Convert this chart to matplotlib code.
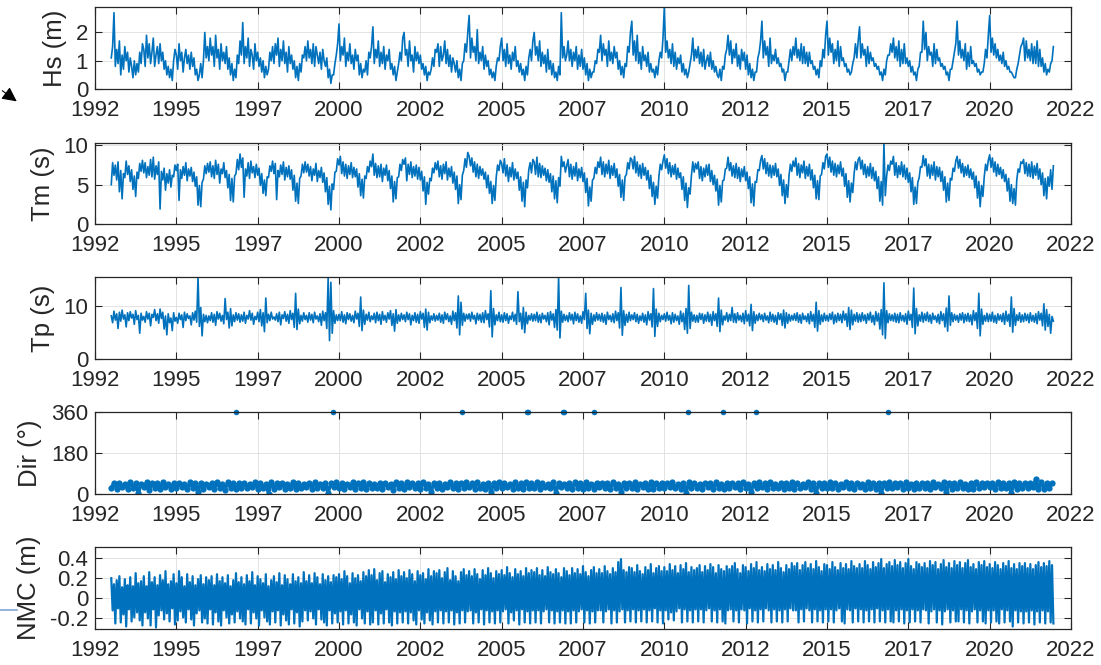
import numpy as np
import matplotlib.pyplot as plt
from matplotlib.lines import Line2D

plt.rcParams['font.family'] = ['Liberation Sans', 'DejaVu Sans']
plt.rcParams['axes.unicode_minus'] = False

# series run from start of 1993 to end of 2021, evenly spaced samples
start_year = 1993.0
end_year = 2022.0

# significant wave height (m), ~2 samples per month
hs = [
    1.1, 1.5, 2.7, 0.8, 1.4, 0.9, 1.7, 0.5, 1.2, 0.7, 1.5, 1.0, 1.3, 0.6, 1.1, 0.8, 0.4, 1.0, 0.5, 0.9, 0.6, 1.3, 0.9, 1.6,
    1.4, 0.8, 1.9, 1.1, 1.6, 0.9, 1.3, 1.8, 0.8, 1.2, 1.5, 0.9, 1.6, 1.0, 1.3, 0.7, 1.0, 0.5, 0.8, 0.4, 0.7, 0.3, 1.0, 1.4,
    1.2, 0.7, 1.6, 1.0, 1.3, 0.6, 1.1, 1.4, 0.9, 1.2, 0.7, 1.3, 0.8, 1.1, 0.5, 0.7, 0.3, 0.5, 0.9, 0.4, 1.0, 2.0, 1.1, 1.5,
    1.0, 1.8, 1.2, 1.5, 0.8, 1.9, 1.1, 1.4, 0.7, 1.6, 1.0, 1.3, 0.9, 1.5, 0.7, 1.1, 0.5, 0.9, 0.3, 0.7, 0.4, 1.2, 0.9, 1.7,
    1.2, 2.35, 0.9, 1.5, 1.1, 1.8, 0.8, 1.4, 1.2, 0.7, 1.6, 1.0, 1.3, 0.8, 1.1, 0.6, 1.0, 0.4, 0.8, 0.5, 0.7, 1.3, 1.0, 1.5,
    0.9, 1.6, 1.2, 1.8, 0.8, 1.4, 1.0, 1.7, 0.9, 1.3, 0.6, 1.5, 0.9, 1.2, 0.7, 1.0, 0.4, 0.8, 0.3, 0.9, 0.6, 1.2, 1.1, 1.5,
    1.0, 1.7, 1.1, 1.4, 0.9, 1.6, 0.8, 1.5, 1.2, 0.9, 1.3, 0.7, 1.4, 1.0, 0.8, 1.1, 0.4, 0.7, 0.2, 0.5, 0.5, 0.9, 1.2, 1.6,
    2.3, 1.0, 1.5, 1.2, 1.8, 0.8, 1.3, 1.0, 1.6, 0.9, 1.2, 0.7, 1.4, 1.0, 1.2, 0.5, 0.9, 0.4, 0.7, 0.6, 1.0, 0.5, 1.3, 1.1,
    1.5, 2.2, 0.9, 1.4, 1.1, 1.7, 0.8, 1.3, 0.9, 1.5, 0.7, 1.2, 1.0, 1.4, 0.7, 0.9, 0.5, 0.8, 0.3, 0.6, 0.9, 1.3, 1.0, 1.8,
    2.0, 1.2, 1.4, 0.8, 1.7, 1.0, 1.2, 0.6, 1.5, 1.0, 1.3, 0.9, 1.2, 0.7, 0.9, 0.5, 0.8, 0.3, 0.6, 0.5, 0.7, 1.1, 0.8, 1.4,
    1.3, 1.6, 0.8, 1.5, 1.0, 1.2, 1.7, 0.9, 1.4, 0.8, 1.2, 0.6, 1.1, 0.9, 0.6, 1.0, 0.4, 0.7, 0.3, 0.9, 1.0, 1.6, 1.3, 2.0,
    2.6, 1.1, 1.8, 1.3, 1.5, 1.0, 2.1, 0.9, 1.3, 1.0, 1.5, 0.7, 1.2, 0.8, 1.0, 0.5, 0.7, 0.4, 0.6, 0.3, 0.8, 1.1, 1.0, 1.5,
    1.8, 1.0, 1.4, 0.8, 1.6, 0.9, 1.2, 0.7, 1.3, 1.0, 1.5, 0.8, 1.0, 0.6, 0.9, 0.5, 0.7, 0.3, 0.8, 0.5, 1.1, 1.4, 1.0, 1.7,
    2.0, 1.2, 1.5, 1.0, 1.7, 0.8, 1.3, 0.9, 1.2, 0.6, 1.4, 0.7, 1.0, 0.5, 0.9, 0.4, 0.6, 0.3, 0.8, 0.5, 2.7, 1.1, 1.5, 1.0,
    1.2, 1.7, 1.0, 1.4, 0.8, 1.3, 1.0, 1.5, 0.7, 1.2, 0.8, 1.4, 0.7, 1.1, 0.5, 0.9, 0.3, 0.7, 0.4, 0.6, 0.6, 1.0, 0.9, 1.4,
    1.3, 1.9, 1.0, 1.6, 1.2, 1.4, 0.8, 1.7, 1.0, 1.3, 0.9, 1.5, 1.1, 1.3, 0.7, 1.0, 0.5, 0.8, 0.4, 0.9, 0.8, 1.5, 1.3, 2.0,
    2.4, 1.2, 1.7, 1.0, 1.9, 0.9, 1.3, 0.7, 1.5, 1.0, 1.2, 0.8, 1.3, 0.6, 0.9, 0.6, 0.7, 0.4, 0.8, 0.5, 1.0, 1.3, 1.1, 1.8,
    2.9, 1.3, 1.7, 1.1, 1.4, 0.9, 1.6, 0.8, 1.3, 0.7, 1.1, 0.9, 1.2, 0.6, 0.9, 0.5, 0.7, 0.4, 0.6, 0.9, 1.2, 1.8, 1.0, 1.4,
    1.1, 1.5, 0.9, 1.3, 0.8, 1.4, 0.7, 1.0, 1.2, 0.8, 1.3, 0.7, 1.0, 0.6, 0.8, 0.5, 0.4, 0.7, 0.3, 0.8, 0.7, 1.2, 1.4, 1.9,
    1.2, 1.7, 0.9, 1.4, 1.1, 1.6, 0.8, 1.2, 0.7, 1.4, 1.0, 1.3, 0.7, 1.2, 0.5, 0.9, 0.4, 0.7, 0.3, 0.6, 0.6, 1.1, 1.3, 1.7,
    2.4, 1.1, 1.7, 1.2, 1.5, 0.8, 1.8, 0.9, 1.2, 1.0, 1.4, 0.9, 1.1, 0.8, 0.9, 0.6, 0.7, 0.3, 0.6, 0.6, 1.0, 1.4, 1.0, 1.5,
    1.2, 1.8, 1.1, 1.4, 1.0, 1.6, 0.9, 1.5, 0.9, 1.3, 0.8, 1.3, 0.9, 1.0, 0.7, 0.8, 0.5, 0.7, 0.4, 1.0, 0.8, 1.4, 1.1, 1.9,
    2.4, 1.2, 1.8, 1.3, 1.6, 0.9, 1.4, 1.0, 1.7, 0.8, 1.5, 1.0, 1.1, 0.8, 0.9, 0.6, 0.7, 0.5, 0.6, 0.9, 1.1, 1.6, 1.1, 1.7,
    2.2, 1.1, 1.6, 1.2, 1.4, 0.8, 1.5, 0.9, 1.3, 1.0, 1.1, 0.8, 0.9, 0.7, 0.8, 0.5, 0.6, 0.3, 0.7, 0.5, 1.0, 1.2, 1.2, 1.6,
    1.3, 1.8, 1.1, 1.5, 1.0, 1.7, 0.8, 1.4, 0.9, 1.6, 0.9, 1.1, 0.8, 1.0, 0.6, 0.8, 0.5, 0.6, 0.3, 0.7, 0.8, 1.3, 1.3, 2.4,
    1.4, 2.0, 1.0, 1.5, 1.2, 1.3, 0.8, 1.6, 0.9, 1.4, 1.0, 1.1, 0.8, 0.9, 0.7, 0.8, 0.5, 0.6, 0.3, 0.7, 0.7, 1.0, 1.3, 1.6,
    2.4, 1.2, 1.7, 1.1, 1.4, 1.0, 1.6, 0.7, 1.3, 0.8, 1.5, 0.9, 1.0, 0.8, 0.9, 0.6, 0.7, 0.5, 0.6, 0.6, 0.9, 1.4, 1.1, 1.9,
    2.6, 1.3, 1.8, 1.2, 1.6, 1.1, 1.4, 1.0, 1.2, 0.9, 1.3, 0.8, 1.0, 0.7, 0.8, 0.6, 0.6, 0.5, 0.4, 0.4, 0.7, 0.9, 1.2, 1.5,
    1.6, 1.8, 1.0, 1.7, 1.1, 1.4, 1.0, 1.6, 0.9, 1.5, 0.9, 1.7, 0.8, 1.4, 0.8, 1.1, 0.6, 0.9, 0.5, 0.7, 0.6, 0.9, 1.0, 1.5,
]

# mean period (s)
tm = [
    5.0, 7.8, 6.2, 7.5, 5.6, 7.9, 4.1, 6.8, 3.2, 6.4, 5.9, 8.0, 6.3, 7.4, 5.4, 6.9, 4.4, 6.1, 3.5, 6.6, 5.8, 7.7, 6.7, 8.1,
    6.5, 7.8, 5.9, 7.3, 6.2, 8.2, 6.0, 8.5, 5.7, 7.4, 6.3, 7.9, 1.9, 6.7, 5.6, 7.1, 4.3, 6.4, 5.2, 6.9, 4.7, 6.2, 6.0, 7.5,
    6.8, 7.6, 3.0, 6.9, 5.8, 7.3, 6.2, 7.8, 5.5, 7.0, 6.1, 7.2, 5.4, 6.6, 4.8, 6.0, 2.4, 4.9, 2.2, 5.3, 5.7, 7.4, 6.4, 7.7,
    6.6, 7.9, 6.0, 7.4, 5.8, 8.1, 6.3, 7.6, 5.2, 7.0, 6.4, 7.8, 5.9, 6.8, 4.6, 6.3, 3.0, 5.8, 2.8, 6.1, 6.4, 8.2, 6.9, 8.9,
    7.2, 8.4, 3.4, 7.0, 6.1, 7.8, 5.8, 8.0, 6.5, 7.3, 5.9, 7.6, 6.2, 7.1, 4.9, 6.4, 3.9, 5.6, 3.6, 6.0, 5.9, 7.4, 6.7, 8.0,
    6.4, 7.7, 3.1, 6.8, 6.0, 7.5, 6.3, 7.9, 5.6, 7.2, 6.0, 7.4, 5.7, 6.9, 4.3, 6.2, 2.9, 5.2, 2.6, 5.8, 6.1, 7.6, 6.5, 7.9,
    6.6, 7.6, 6.1, 7.3, 5.5, 7.0, 6.2, 7.7, 5.4, 6.8, 5.9, 7.2, 5.3, 6.5, 4.1, 5.9, 2.5, 4.8, 1.8, 5.1, 4.4, 6.6, 6.7, 8.3,
    7.5, 8.6, 6.4, 7.9, 6.1, 7.6, 5.8, 7.4, 6.3, 7.8, 5.9, 7.2, 6.0, 7.0, 4.7, 6.4, 3.6, 5.7, 3.3, 6.1, 5.8, 7.3, 6.6, 8.0,
    7.3, 8.9, 6.2, 7.7, 5.9, 7.4, 6.0, 7.6, 5.4, 7.1, 6.2, 7.5, 5.5, 6.8, 4.5, 6.1, 2.8, 5.4, 3.2, 5.9, 6.0, 7.6, 6.8, 8.2,
    7.6, 8.4, 5.5, 7.6, 6.3, 7.9, 5.9, 7.3, 6.1, 7.5, 5.7, 7.2, 5.6, 6.7, 4.2, 6.0, 2.5, 5.3, 3.8, 5.8, 5.5, 7.1, 6.5, 7.8,
    6.9, 8.0, 6.0, 7.4, 5.7, 7.6, 6.4, 7.9, 5.6, 7.1, 6.0, 7.3, 5.2, 6.6, 4.4, 6.1, 2.6, 5.0, 3.1, 6.2, 6.8, 8.3, 7.2, 9.1,
    8.6, 7.4, 8.4, 6.6, 7.9, 6.0, 7.6, 5.8, 7.3, 6.2, 7.0, 5.7, 6.6, 4.6, 6.2, 3.9, 5.4, 2.6, 4.9, 3.0, 6.0, 7.5, 6.8, 8.1,
    7.7, 6.5, 8.3, 6.1, 7.5, 5.4, 7.2, 6.0, 7.8, 5.6, 7.0, 5.8, 6.6, 4.3, 6.0, 2.9, 5.3, 2.2, 5.6, 4.6, 6.9, 7.8, 6.5, 8.2,
    7.9, 6.3, 8.5, 6.0, 7.7, 5.9, 7.4, 6.2, 7.1, 5.5, 6.9, 5.3, 6.4, 4.1, 6.1, 3.2, 5.5, 2.7, 5.9, 4.8, 8.6, 7.3, 7.9, 6.6,
    7.4, 8.2, 6.0, 7.6, 5.7, 7.3, 6.1, 7.8, 5.5, 7.0, 5.9, 7.2, 5.4, 6.5, 4.0, 5.8, 2.3, 4.7, 2.9, 5.6, 5.8, 7.2, 6.4, 7.9,
    7.2, 8.5, 6.3, 7.9, 6.0, 7.6, 6.4, 8.1, 5.8, 7.4, 6.2, 7.7, 5.9, 7.0, 4.8, 6.3, 3.4, 5.6, 3.0, 6.0, 6.3, 7.8, 7.0, 8.4,
    8.2, 7.0, 8.6, 6.5, 7.9, 6.1, 7.5, 5.8, 7.7, 6.2, 7.2, 5.6, 6.8, 4.5, 6.2, 3.5, 5.3, 2.5, 4.8, 3.3, 6.1, 7.6, 6.9, 8.0,
    8.8, 7.1, 8.3, 6.4, 7.8, 6.0, 7.4, 6.3, 7.6, 5.7, 7.1, 5.9, 6.5, 4.4, 6.0, 3.0, 5.2, 2.1, 4.6, 3.8, 6.2, 7.9, 6.6, 7.7,
    7.0, 7.9, 5.8, 7.3, 5.5, 7.1, 6.0, 7.5, 6.2, 7.6, 5.4, 6.8, 5.0, 6.2, 4.2, 5.7, 2.4, 4.9, 2.8, 5.5, 5.6, 7.0, 7.1, 8.5,
    6.8, 7.8, 6.1, 7.4, 5.9, 7.7, 5.8, 7.2, 5.4, 7.0, 6.0, 7.3, 5.5, 6.6, 4.5, 6.0, 2.7, 5.1, 2.3, 5.4, 5.3, 6.9, 6.8, 8.1,
    8.7, 7.0, 8.3, 6.4, 7.8, 6.1, 7.5, 5.9, 7.4, 6.2, 7.7, 6.0, 7.0, 4.9, 6.3, 3.6, 5.6, 2.6, 5.0, 3.4, 6.2, 7.6, 6.7, 8.0,
    7.3, 8.4, 6.2, 7.7, 5.9, 7.5, 6.5, 8.0, 5.8, 7.3, 6.1, 7.6, 5.6, 6.9, 4.6, 6.2, 3.2, 5.5, 3.1, 6.1, 6.3, 7.8, 7.0, 8.6,
    8.9, 7.2, 8.5, 6.6, 8.0, 6.2, 7.7, 6.0, 7.5, 6.4, 7.9, 6.1, 7.1, 4.8, 6.4, 3.4, 5.5, 2.8, 5.2, 4.0, 6.4, 7.9, 6.9, 8.2,
    8.5, 7.0, 8.1, 6.3, 7.6, 5.9, 7.3, 6.1, 7.7, 5.8, 7.2, 5.5, 6.7, 4.5, 6.0, 2.9, 5.4, 2.4, 10.3, 3.6, 6.1, 7.5, 6.8, 8.0,
    7.6, 8.6, 6.2, 7.8, 5.9, 7.4, 6.3, 7.9, 6.0, 7.5, 5.7, 7.1, 5.3, 6.5, 4.1, 5.9, 2.5, 4.7, 2.6, 5.3, 5.9, 7.3, 7.2, 8.7,
    7.4, 8.3, 6.1, 7.6, 5.8, 7.5, 6.2, 7.9, 5.6, 7.3, 6.0, 7.2, 5.4, 6.7, 4.3, 6.0, 2.8, 5.2, 3.0, 5.8, 5.6, 7.1, 6.7, 8.0,
    8.6, 7.1, 8.2, 6.5, 7.7, 6.0, 7.3, 6.2, 7.5, 5.9, 7.0, 5.7, 6.6, 4.6, 6.1, 3.3, 5.4, 2.2, 4.9, 3.5, 6.0, 7.6, 6.8, 8.1,
    8.8, 7.2, 8.4, 6.6, 7.9, 6.1, 7.6, 6.3, 7.2, 5.8, 6.9, 5.4, 6.3, 4.2, 5.8, 2.9, 5.0, 2.6, 4.5, 2.4, 5.6, 7.0, 6.6, 7.9,
    7.7, 8.2, 6.4, 7.8, 6.1, 7.6, 6.0, 7.9, 5.8, 7.4, 6.2, 7.7, 5.7, 7.0, 5.0, 6.5, 3.6, 5.8, 3.2, 6.0, 4.8, 6.9, 4.4, 7.4,
]

# peak period (s)
tp = [
    8.2, 6.9, 9.1, 7.4, 8.6, 5.8, 8.9, 7.2, 9.3, 7.6, 8.4, 6.1, 8.8, 7.3, 9.0, 7.8, 8.5, 6.6, 9.2, 7.5, 8.3, 4.9, 8.7, 7.4,
    8.1, 7.0, 9.0, 7.6, 8.7, 6.3, 8.5, 7.9, 9.4, 7.3, 8.6, 6.8, 9.5, 7.7, 8.9, 5.7, 8.2, 4.6, 8.6, 6.9, 7.8, 5.4, 8.8, 7.2,
    7.9, 6.8, 8.7, 7.5, 8.4, 6.0, 8.9, 7.3, 8.6, 7.7, 8.2, 6.5, 8.8, 7.4, 9.1, 7.0, 15.5, 6.2, 9.8, 4.4, 8.5, 7.1, 8.3, 6.9,
    8.2, 7.3, 8.8, 7.0, 8.5, 6.4, 9.0, 7.6, 8.7, 7.2, 8.3, 6.7, 11.5, 7.5, 8.9, 5.9, 9.6, 6.3, 8.4, 7.1, 8.8, 7.4, 8.6, 7.0,
    8.4, 7.2, 8.9, 6.8, 8.3, 7.6, 9.2, 7.4, 8.7, 6.6, 8.1, 7.5, 8.9, 7.1, 9.4, 6.3, 8.8, 5.2, 11.6, 6.9, 8.5, 7.3, 8.9, 7.6,
    8.0, 7.4, 8.6, 7.1, 8.9, 6.5, 8.4, 7.7, 9.0, 7.2, 8.5, 6.8, 9.2, 7.5, 8.7, 6.0, 12.5, 5.6, 9.5, 6.7, 8.3, 7.2, 8.8, 7.5,
    8.3, 7.0, 8.8, 7.4, 8.5, 6.9, 8.9, 7.6, 8.2, 7.1, 8.6, 6.4, 9.1, 7.3, 8.8, 5.8, 15.5, 3.5, 14.6, 4.9, 9.2, 6.8, 8.4, 7.3,
    8.5, 7.3, 9.0, 7.0, 8.4, 6.7, 8.8, 7.5, 8.6, 7.2, 8.3, 6.9, 9.1, 7.6, 8.7, 6.2, 11.8, 5.4, 9.3, 6.6, 8.5, 7.4, 8.9, 7.1,
    8.2, 7.5, 8.7, 6.9, 8.9, 7.3, 8.5, 6.6, 9.0, 7.4, 8.3, 7.0, 8.8, 7.6, 9.2, 6.4, 8.6, 5.3, 9.4, 6.8, 8.4, 7.2, 8.7, 7.5,
    8.4, 7.1, 8.9, 7.5, 8.6, 6.5, 8.3, 7.3, 8.8, 7.0, 8.5, 6.8, 9.0, 7.6, 8.7, 6.0, 9.5, 5.5, 8.9, 6.9, 8.2, 7.4, 8.6, 7.2,
    8.3, 7.4, 8.7, 7.0, 8.4, 6.8, 8.9, 7.5, 8.6, 7.1, 8.2, 6.6, 9.1, 7.3, 8.8, 5.9, 12.0, 4.6, 10.8, 6.4, 8.7, 7.2, 8.5, 7.6,
    8.6, 7.2, 8.9, 7.6, 8.3, 6.7, 8.7, 7.4, 8.5, 7.0, 8.8, 6.9, 9.2, 7.5, 8.6, 6.1, 13.0, 4.2, 9.6, 6.5, 8.4, 7.3, 8.9, 7.1,
    8.4, 7.0, 8.8, 7.3, 8.6, 6.8, 8.2, 7.5, 8.9, 7.2, 8.5, 6.6, 12.8, 7.1, 8.7, 5.7, 9.8, 5.0, 8.9, 6.7, 8.3, 7.4, 8.6, 7.2,
    8.5, 7.3, 8.9, 7.0, 8.4, 6.9, 8.7, 7.6, 8.3, 7.1, 8.8, 6.5, 9.0, 7.4, 8.6, 6.0, 9.4, 5.5, 15.6, 4.0, 9.1, 7.0, 8.5, 7.3,
    8.3, 7.1, 8.8, 7.4, 8.5, 6.7, 8.9, 7.3, 8.6, 7.0, 8.2, 6.8, 9.0, 7.5, 12.5, 5.8, 9.3, 4.8, 8.7, 6.6, 8.4, 7.2, 8.8, 7.4,
    8.5, 7.2, 8.7, 7.0, 8.4, 6.6, 8.9, 7.5, 8.3, 7.1, 8.6, 6.9, 9.1, 7.3, 8.8, 5.9, 13.6, 4.5, 9.2, 6.4, 8.5, 7.0, 8.9, 7.3,
    8.4, 7.5, 8.8, 7.1, 8.5, 6.8, 8.2, 7.3, 8.7, 7.0, 8.4, 6.5, 9.0, 7.4, 8.6, 6.1, 13.4, 4.3, 9.5, 6.2, 8.7, 7.1, 8.3, 7.5,
    8.6, 7.2, 8.9, 7.4, 8.3, 6.7, 8.8, 7.0, 8.5, 7.3, 8.2, 6.6, 9.1, 7.1, 8.7, 5.6, 9.6, 4.9, 14.0, 5.8, 8.9, 7.2, 8.4, 7.0,
    8.3, 7.0, 8.7, 7.5, 8.6, 6.8, 8.4, 7.2, 8.9, 7.1, 8.5, 6.4, 9.0, 7.3, 8.6, 6.2, 11.6, 5.2, 9.3, 6.5, 8.2, 7.4, 8.8, 7.1,
    8.5, 7.3, 9.8, 7.0, 8.6, 6.9, 8.8, 7.4, 8.3, 7.1, 8.7, 6.7, 9.2, 7.2, 8.5, 6.3, 10.4, 5.4, 9.0, 6.8, 8.4, 7.3, 8.7, 7.5,
    8.4, 7.1, 8.7, 7.4, 8.2, 6.9, 8.9, 7.2, 8.5, 7.0, 8.3, 6.6, 8.8, 7.5, 8.6, 6.4, 9.3, 5.9, 8.8, 6.8, 8.5, 7.2, 8.3, 7.4,
    8.6, 7.3, 8.8, 7.0, 8.4, 6.8, 8.7, 7.5, 8.2, 7.1, 8.6, 6.7, 9.0, 7.2, 8.5, 6.0, 10.8, 5.3, 9.2, 6.6, 8.4, 7.1, 8.7, 7.3,
    8.3, 7.2, 8.6, 7.5, 8.9, 6.7, 8.4, 7.0, 8.7, 7.3, 8.5, 6.9, 9.1, 7.4, 8.6, 6.2, 9.8, 5.6, 9.3, 6.5, 8.5, 7.2, 8.8, 7.0,
    8.5, 7.1, 8.8, 7.3, 8.4, 6.8, 8.6, 7.4, 8.9, 7.0, 8.3, 6.5, 9.0, 7.2, 8.7, 5.7, 9.4, 4.6, 14.5, 3.9, 9.2, 6.9, 8.6, 7.3,
    8.4, 7.2, 8.7, 7.0, 8.5, 6.9, 8.8, 7.3, 8.3, 7.1, 8.6, 6.6, 9.1, 7.4, 8.5, 6.0, 13.5, 4.8, 9.6, 6.3, 8.4, 7.2, 8.9, 7.0,
    8.6, 7.3, 8.9, 7.1, 8.4, 6.8, 8.7, 7.5, 8.2, 7.0, 8.5, 6.7, 9.0, 7.3, 8.6, 6.1, 9.7, 5.3, 12.0, 6.4, 8.8, 7.1, 8.5, 7.4,
    8.3, 7.0, 8.6, 7.4, 8.8, 6.9, 8.5, 7.2, 8.7, 7.1, 8.4, 6.5, 9.2, 7.3, 8.8, 5.8, 12.5, 4.4, 9.5, 6.6, 8.3, 7.2, 8.7, 7.1,
    8.5, 7.2, 8.9, 7.0, 8.3, 6.8, 8.6, 7.4, 8.4, 7.1, 8.7, 6.6, 9.1, 7.2, 8.5, 6.2, 11.8, 5.1, 9.6, 6.4, 8.4, 7.3, 8.8, 7.0,
    8.4, 7.1, 8.7, 7.3, 8.5, 6.9, 8.8, 7.2, 8.3, 7.0, 8.6, 6.7, 9.0, 7.4, 8.7, 6.3, 10.5, 5.5, 9.4, 6.2, 8.5, 4.9, 8.1, 7.2,
]

# mean wave direction (deg), monthly
dir_deg = [
    28, 47, 24, 50, 30, 45, 22, 52, 27, 48, 3, 46,
    29, 51, 18, 47, 26, 49, 23, 53, 30, 45, 21, 48,
    25, 49, 30, 44, 20, 52, 27, 47, 8, 50, 24, 46,
    31, 48, 23, 51, 28, 45, 19, 53, 26, 49, 22, 47,
    27, 50, 25, 46, 30, 52, 21, 48, 28, 44, 2, 51,
    24, 47, 29, 50, 22, 45, 27, 53, 20, 48, 26, 46,
    30, 49, 23, 52, 28, 46, 25, 50, 6, 47, 29, 51,
    26, 48, 22, 45, 30, 51, 24, 47, 27, 53, 21, 49,
    28, 46, 25, 50, 23, 48, 30, 45, 19, 52, 27, 47,
    24, 51, 29, 47, 26, 49, 22, 53, 28, 45, 10, 48,
    27, 50, 23, 46, 30, 52, 25, 48, 21, 47, 28, 51,
    29, 47, 24, 53, 27, 45, 22, 50, 7, 48, 26, 52,
    25, 49, 30, 46, 23, 51, 28, 47, 20, 54, 27, 48,
    28, 51, 22, 48, 29, 45, 25, 52, 4, 49, 30, 46,
    26, 48, 24, 51, 28, 47, 21, 53, 27, 45, 23, 50,
    30, 47, 25, 49, 22, 52, 28, 46, 9, 50, 26, 48,
    27, 51, 23, 46, 29, 48, 24, 53, 21, 47, 28, 50,
    25, 48, 30, 52, 26, 45, 22, 49, 5, 51, 27, 47,
    28, 46, 24, 50, 30, 48, 23, 52, 27, 46, 21, 49,
    26, 50, 29, 47, 22, 53, 28, 45, 8, 49, 25, 51,
    29, 47, 23, 51, 27, 46, 25, 50, 20, 48, 28, 52,
    24, 49, 28, 46, 30, 52, 22, 48, 6, 50, 27, 47,
    27, 51, 25, 48, 23, 45, 29, 53, 26, 49, 21, 50,
    30, 46, 24, 52, 28, 48, 22, 50, 3, 47, 26, 51,
    25, 50, 29, 47, 23, 53, 27, 46, 20, 49, 28, 48,
    28, 48, 22, 51, 30, 46, 25, 52, 7, 50, 24, 47,
    26, 51, 28, 46, 24, 49, 21, 53, 27, 47, 29, 50,
    29, 47, 23, 52, 27, 48, 25, 50, 5, 51, 22, 49,
    27, 50, 26, 48, 30, 65, 24, 51, 20, 49, 28, 47,
]

# isolated records at 360 deg
dir_out_year = [1996.83, 1999.82, 2003.78, 2005.77, 2005.80, 2006.88, 2006.91,
                2007.84, 2010.73, 2011.80, 2012.82, 2016.88]
dir_out_val = [360] * len(dir_out_year)

# non-tidal residual (m), alternating highs and lows of the dense signal
nmc = [
    .20, -.12, .14, -.25, .18, -.10, .22, -.24, .11, -.16, .19, -.28, .13, -.11, .21, -.23, .12, -.19, .25, -.14, .15, -.22, .17, -.27,
    .22, -.14, .12, -.20, .26, -.27, .16, -.11, .21, -.29, .13, -.17, .23, -.12, .18, -.21, .27, -.15, .14, -.23, .17, -.10, .24, -.26,
    .15, -.22, .27, -.13, .21, -.19, .12, -.24, .24, -.11, .16, -.21, .22, -.27, .13, -.15, .19, -.12, .23, -.24, .14, -.20, .21, -.25,
    .18, -.11, .22, -.26, .13, -.14, .24, -.23, .17, -.27, .21, -.12, .15, -.19, .23, -.25, .12, -.16, .18, -.24, .25, -.13, .16, -.20,
    .21, -.23, .14, -.26, .23, -.11, .17, -.25, .26, -.14, .13, -.20, .22, -.27, .19, -.12, .15, -.19, .24, -.23, .12, -.26, .18, -.13,
    .22, -.24, .16, -.12, .25, -.27, .13, -.16, .23, -.22, .19, -.26, .14, -.11, .24, -.25, .17, -.14, .21, -.28, .15, -.23, .26, -.12,
    .17, -.22, .23, -.13, .15, -.20, .25, -.26, .21, -.11, .14, -.21, .24, -.24, .18, -.27, .22, -.12, .16, -.25, .23, -.15, .21, -.24,
    .24, -.13, .19, -.26, .27, -.12, .22, -.25, .15, -.16, .25, -.24, .20, -.27, .23, -.11, .17, -.20, .26, -.25, .22, -.13, .28, -.26,
    .23, -.24, .29, -.12, .18, -.26, .25, -.15, .27, -.25, .16, -.11, .24, -.24, .21, -.27, .26, -.13, .19, -.25, .28, -.14, .22, -.24,
    .26, -.13, .20, -.25, .28, -.14, .24, -.22, .17, -.26, .27, -.12, .23, -.21, .25, -.25, .19, -.14, .29, -.22, .22, -.26, .27, -.13,
    .25, -.24, .28, -.12, .20, -.25, .26, -.13, .30, -.24, .18, -.12, .27, -.26, .22, -.14, .17, -.25, .26, -.12, .29, -.24, .23, -.13,
    .27, -.12, .22, -.25, .29, -.14, .24, -.24, .19, -.11, .28, -.26, .23, -.12, .30, -.24, .25, -.13, .20, -.25, .27, -.12, .24, -.24,
    .28, -.13, .23, -.11, .31, -.25, .25, -.14, .21, -.22, .29, -.12, .24, -.26, .27, -.11, .22, -.24, .30, -.13, .25, -.25, .28, -.12,
    .26, -.24, .30, -.12, .23, -.25, .28, -.13, .22, -.11, .31, -.24, .26, -.12, .24, -.25, .29, -.13, .25, -.24, .21, -.12, .30, -.25,
    .27, -.13, .23, -.25, .30, -.12, .25, -.24, .29, -.13, .24, -.11, .32, -.24, .26, -.12, .22, -.25, .28, -.13, .31, -.24, .25, -.12,
    .29, -.12, .25, -.24, .32, -.13, .27, -.11, .24, -.25, .30, -.12, .26, -.24, .36, -.13, .39, -.11, .28, -.24, .26, -.12, .31, -.23,
    .30, -.11, .26, -.24, .33, -.12, .27, -.23, .24, -.11, .31, -.24, .28, -.12, .34, -.23, .25, -.10, .30, -.24, .32, -.12, .27, -.25,
    .31, -.12, .27, -.21, .34, -.14, .28, -.22, .32, -.13, .25, -.10, .33, -.24, .29, -.11, .35, -.23, .26, -.12, .31, -.24, .28, -.11,
    .30, -.23, .33, -.11, .26, -.24, .32, -.12, .28, -.10, .34, -.23, .31, -.12, .25, -.24, .33, -.11, .29, -.23, .27, -.25, .32, -.12,
    .29, -.11, .32, -.23, .35, -.12, .29, -.24, .25, -.11, .33, -.12, .31, -.25, .27, -.10, .34, -.23, .30, -.12, .36, -.24, .28, -.11,
    .31, -.23, .27, -.10, .34, -.12, .29, -.24, .33, -.11, .28, -.23, .36, -.12, .30, -.24, .26, -.11, .33, -.23, .29, -.10, .35, -.12,
    .32, -.12, .35, -.24, .28, -.11, .33, -.23, .36, -.10, .30, -.12, .34, -.24, .29, -.11, .37, -.23, .31, -.12, .27, -.24, .34, -.11,
    .33, -.23, .29, -.11, .36, -.24, .31, -.12, .28, -.10, .35, -.23, .30, -.25, .34, -.11, .29, -.12, .37, -.24, .32, -.10, .30, -.23,
    .34, -.11, .30, -.24, .37, -.12, .33, -.23, .29, -.11, .36, -.24, .31, -.10, .35, -.23, .39, -.12, .30, -.24, .34, -.11, .36, -.23,
    .32, -.24, .38, -.12, .33, -.23, .36, -.11, .30, -.25, .35, -.12, .39, -.24, .32, -.11, .29, -.23, .36, -.12, .34, -.24, .31, -.11,
    .35, -.12, .30, -.25, .37, -.13, .33, -.11, .36, -.24, .29, -.12, .34, -.26, .38, -.13, .31, -.11, .35, -.24, .30, -.12, .37, -.23,
    .33, -.23, .36, -.11, .30, -.24, .35, -.12, .38, -.25, .31, -.13, .34, -.11, .29, -.24, .36, -.12, .33, -.23, .37, -.25, .31, -.12,
    .34, -.24, .30, -.12, .36, -.23, .33, -.25, .29, -.11, .35, -.24, .32, -.12, .37, -.23, .30, -.28, .34, -.12, .29, -.24, .35, -.13,
    .32, -.25, .35, -.13, .30, -.24, .34, -.12, .29, -.26, .33, -.13, .36, -.24, .31, -.12, .35, -.25, .32, -.13, .37, -.24, .33, -.25,
]

year_labels = ['1992', '1995', '1997', '2000', '2002', '2005', '2007',
               '2010', '2012', '2015', '2017', '2020', '2022']
year_ticks = [1992.5 + 2.5 * i for i in range(len(year_labels))]

ylabels = ['Hs (m)', 'Tm (s)', 'Tp (s)', 'Dir (°)', 'NMC (m)']
ylims = [(0, 2.9), (0, 10.3), (0, 15.6), (0, 360), (-0.305, 0.51)]
yticks = [[0, 1, 2], [0, 5, 10], [0, 10], [0, 180, 360], [-0.2, 0, 0.2, 0.4]]
yticklabels = [['0', '1', '2'], ['0', '5', '10'], ['0', '10'], ['0', '180', '360'],
               ['-0.2', '0', '0.2', '0.4']]


def times(values):
    n = len(values)
    return start_year + (end_year - start_year) * np.arange(n) / n


blue = '#0072BD'
dark = '#262626'
W, H = 1101, 665
fig = plt.figure(figsize=(W / 100, H / 100), dpi=100)

# panel extents in pixels (top, bottom)
rows = [(7, 89), (143, 224), (277, 359), (412, 494), (547, 629)]
left, right = 95, 1071
axes = []
for (top, bot) in rows:
    ax = fig.add_axes([left / W, 1 - bot / H, (right - left) / W, (bot - top) / H])
    axes.append(ax)

axes[0].plot(times(hs), hs, color=blue, lw=1.2)
axes[1].plot(times(tm), tm, color=blue, lw=1.2)
axes[2].plot(times(tp), tp, color=blue, lw=1.2)
axes[3].plot(times(dir_deg), dir_deg, '.-', color=blue, lw=2.5, ms=9, mew=0)
axes[3].plot(dir_out_year, dir_out_val, '.', color=blue, ms=8, mew=0, clip_on=False)
axes[4].plot(times(nmc), nmc, color=blue, lw=1.6)

for i, ax in enumerate(axes):
    ax.set_xlim(year_ticks[0], year_ticks[-1])
    ax.set_ylim(*ylims[i])
    ax.set_xticks(year_ticks)
    ax.set_xticklabels(year_labels)
    ax.set_yticks(yticks[i])
    ax.set_yticklabels(yticklabels[i])
    ax.tick_params(direction='in', length=5, width=0.8, color=dark, labelcolor=dark,
                   labelsize=16, top=True, right=True, pad=5)
    ax.tick_params(axis='x', pad=8)
    ax.grid(True, color='#dedede', lw=0.6)
    ax.set_axisbelow(True)
    for s in ax.spines.values():
        s.set_color(dark)
        s.set_linewidth(0.9)
    ax.set_ylabel(ylabels[i], fontsize=18.5, color=dark, labelpad=6)

# stray marks present on the source image edge
fig.add_artist(Line2D([0, 17 / W], [1 - 610 / H, 1 - 610 / H], color='#7fa6d3', lw=1.2))
axes[0].annotate('', xy=(19, H - 103), xytext=(0, H - 89), xycoords='figure pixels',
                 textcoords='figure pixels',
                 arrowprops=dict(arrowstyle='-|>', color='black', lw=0.8, mutation_scale=22))

fig.savefig('out.png', dpi=100)
